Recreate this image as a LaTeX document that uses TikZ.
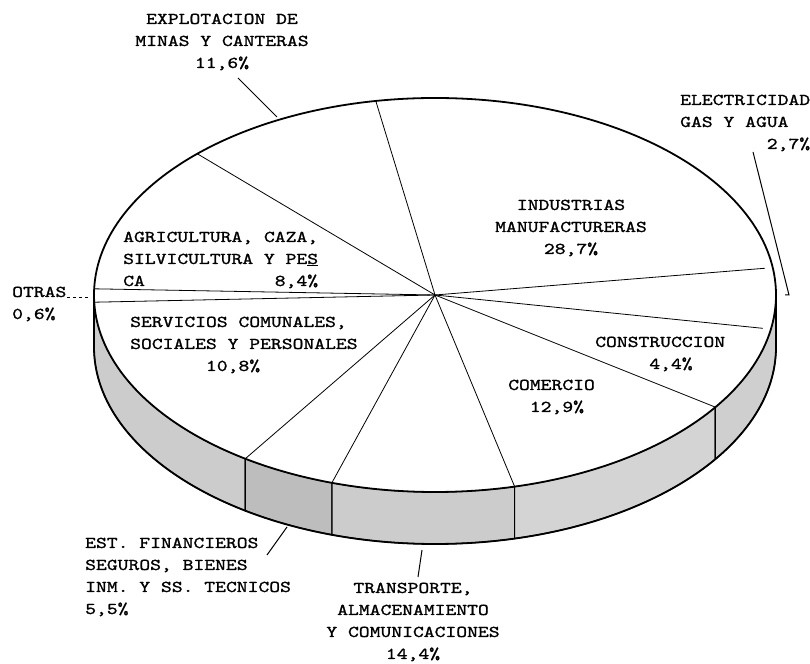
\documentclass[tikz,border=0pt]{standalone}
\usepackage{fontspec}
\setmonofont{lmmono10-regular.otf}[FakeStretch=1.25,FakeBold=1.2]
\usepackage{tikz}
\tikzstyle{rim}=[line width=1.8pt,draw=black]
\tikzstyle{slice}=[line width=0.8pt,draw=black]
\tikzstyle{wall}=[line width=1.2pt,draw=black]
\tikzstyle{plabel}=[font=\ttfamily\fontsize{16.5}{22}\selectfont,inner sep=0pt]
\tikzstyle{pointer}=[line width=1pt]

\begin{document}
\begin{tikzpicture}[x=1pt,y=1pt]
            \useasboundingbox (0,0) rectangle (810,663);

            % PIE PART

            \begin{scope}[shift={(435,368)}]
            \coordinate (ctr) at (0,0);
            \foreach \a/\b/\g in {180/236.2/20,236.2/252.4/26,252.4/283.5/20,283.5/325.3/17,325.3/360/19}
                \filldraw[wall,fill=black!\g] (\a:341 and 197) arc[start angle=\a,end angle=\b,x radius=341,y radius=197]
                    -- ++(0,-52) arc[start angle=\b,end angle=\a,x radius=341,y radius=197] -- cycle;

            \filldraw[rim,fill=white] (ctr) ellipse[x radius=341,y radius=197];
            \draw[rim] (180:341 and 197) -- ++(0,-52) arc[start angle=180,end angle=360,x radius=341,y radius=197] -- ++(0,52);

            \foreach \t in {100,134.2,178.2,182.1,236.2,252.4,283.5,325.3}
                \draw[slice] (ctr) -- (\t:341 and 197);
            \foreach \t in {8,350}
                \draw[slice] (ctr) -- (\t:333 and 192);
            \end{scope}

            % LABELS PART

            \node[plabel,align=center] (expl) at (222,621) {EXPLOTACION DE\\MINAS Y CANTERAS\\11,6\%};
            \node[plabel,align=left,anchor=west] (elec) at (680,540) {ELECTRICIDAD\\GAS Y AGUA\\\phantom{XXXXXXXX}2,7\%};
            \node[plabel,align=center] (indus) at (571,435) {INDUSTRIAS\\MANUFACTURERAS\\28,7\%};
            \node[plabel,align=left,anchor=west] (agri) at (123,403) {AGRICULTURA, CAZA,\\SILVICULTURA Y PE\underline{S}\\CA\phantom{XXXXXXXXXXXX}8,4\%};
            \node[plabel,align=left,anchor=west] (otras) at (12,359) {OTRAS\\0,6\%};
            \node[plabel,align=left,anchor=west] (serv) at (130,318) {SERVICIOS COMUNALES,\\SOCIALES Y PERSONALES\\\phantom{XXXXXXX}10,8\%};
            \node[plabel,align=left,anchor=west] (constr) at (595,309) {CONSTRUCCION\\\phantom{XXXXX}4,4\%};
            \node[plabel,align=left,anchor=west] (comer) at (508,266) {COMERCIO\\\phantom{XX}12,9\%};
            \node[plabel,align=left,anchor=west] (estfin) at (85,86) {EST. FINANCIEROS\\SEGUROS, BIENES\\INM. Y SS. TECNICOS\\5,5\%};
            \node[plabel,align=center] (transp) at (413,41) {TRANSPORTE,\\ALMACENAMIENTO\\Y COMUNICACIONES\\14,4\%};

            % POINTERS PART

            \coordinate (expl1) at (238,585);
            \coordinate (expl2) at (277,546);
            \coordinate (elec1) at (753,511);
            \coordinate (elec2) at (789,368);
            \coordinate (otras1) at (67,365);
            \coordinate (otras2) at (88,365);
            \coordinate (estfin1) at (267,108);
            \coordinate (estfin2) at (287,136);
            \coordinate (transp1) at (418,86);
            \coordinate (transp2) at (422,113);

            \draw[pointer] (expl1) -- (expl2);
            \draw[pointer] (elec1) -- (elec2) -- ++(-4,0);
            \draw[pointer,dashed] (otras1) -- (otras2);
            \draw[pointer] (estfin1) -- (estfin2);
            \draw[pointer] (transp1) -- (transp2);

\end{tikzpicture}
\end{document}
